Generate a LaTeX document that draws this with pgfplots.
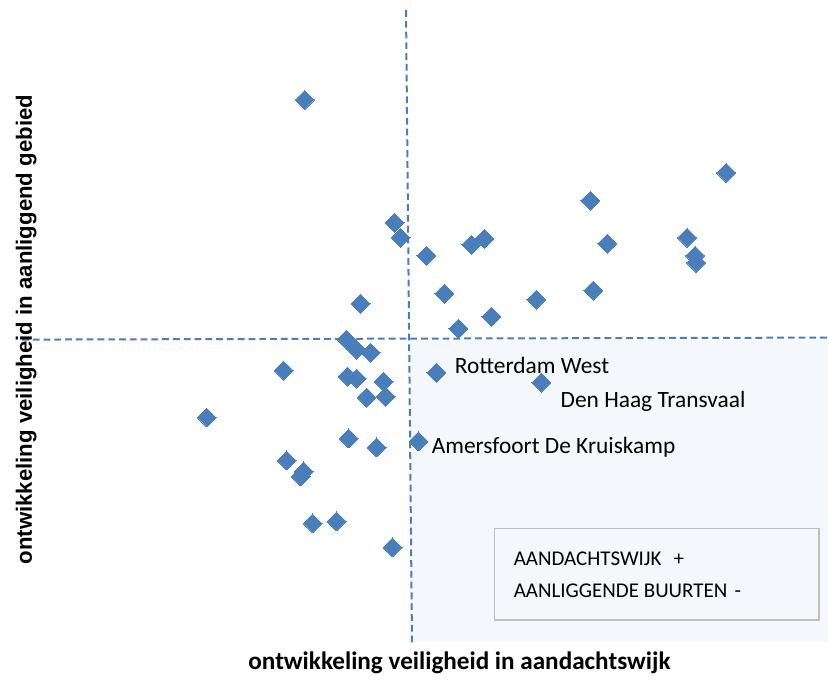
\documentclass[border=0pt]{standalone}
\usepackage{fontspec}
\setmainfont{Carlito}
\newfontfamily\arialfont{Liberation Sans}
\usepackage{pgfplots}
\pgfplotsset{compat=1.18}

\definecolor{ptblue}{HTML}{4A7EBB}
\definecolor{quadshade}{HTML}{F4F7FB}
\definecolor{boxgray}{HTML}{BFBFBF}

% points measured relative to the quadrant crossing
\pgfplotstableread{
x y
-104 239
318 166
182 138
-14 116
-8 101
76 100
63 94
199 95
279 101
287 83
288 76
18 83
36 45
128 39
185 48
83 22
50 10
-48 35
-62 -1
-52 -11
-38 -14
-125 -32
-61 -38
-52 -40
-25 -43
-42 -59
-23 -58
-202 -79
-60 -100
-32 -109
10 -103
-122 -122
-105 -133
-108 -138
-96 -185
-72 -183
-16 -209
28 -34
133 -44
}\wijken

\begin{document}
\begin{tikzpicture}
\begin{axis}[
  width=414.5pt, height=341pt,
  scale only axis,
  xmin=-409, xmax=420,
  ymin=-343, ymax=339,
  hide axis,
  clip=false,
]
% reserve the full picture area
\path (axis cs:-409,-343) rectangle (axis cs:420,339);
% shaded quadrant
\fill[quadshade] (axis cs:1,-1) rectangle (axis cs:420,-304);
% quadrant lines
\draw[ptblue, line width=1pt, dash pattern=on 3.4pt off 2pt]
  (axis cs:-387,-1) -- (axis cs:420,1);
\draw[ptblue, line width=1pt, dash pattern=on 3.4pt off 2pt]
  (axis cs:-2.5,329) -- (axis cs:3.5,-305);

\addplot[only marks, mark=square*, mark size=3.36pt,
  mark options={rotate=45, fill=ptblue, draw=ptblue, line width=0pt}]
  table[x=x, y=y] {\wijken};

% annotations
\node[anchor=base west, inner sep=0pt, font=\fontsize{11.7}{14}\selectfont]
  at (axis cs:46,-35.3) {Rotterdam West};
\node[anchor=base west, inner sep=0pt, font=\fontsize{11.7}{14}\selectfont]
  at (axis cs:152,-69.3) {Den Haag Transvaal};
\node[anchor=base west, inner sep=0pt, font=\fontsize{11.7}{14}\selectfont]
  at (axis cs:23,-115) {Amersfoort De Kruiskamp};

% legend-like box
\draw[boxgray, line width=0.8pt, fill=quadshade]
  (axis cs:86,-190) rectangle (axis cs:411,-282);
\node[anchor=base west, inner sep=0pt, font=\fontsize{10.5}{12}\selectfont]
  at (axis cs:105,-226.7) {AANDACHTSWIJK};
\node[anchor=base west, inner sep=0pt, font=\fontsize{10.5}{12}\selectfont]
  at (axis cs:265,-226.7) {+};
\node[anchor=base west, inner sep=0pt, font=\fontsize{10.5}{12}\selectfont]
  at (axis cs:105,-259.3) {AANLIGGENDE BUURTEN};
\node[anchor=base west, inner sep=0pt, font=\fontsize{10.5}{12}\selectfont]
  at (axis cs:326,-259.3) {-};

% axis titles
\node[anchor=base, inner sep=0pt, font=\fontsize{12.6}{15}\selectfont\bfseries]
  at (axis cs:51,-331) {ontwikkeling veiligheid in aandachtswijk};
\node[anchor=base, rotate=90, inner sep=0pt, font=\arialfont\fontsize{11.1}{13}\selectfont\bfseries]
  at (axis cs:-377,9) {ontwikkeling veiligheid in aanliggend gebied};
\end{axis}
\end{tikzpicture}
\end{document}
